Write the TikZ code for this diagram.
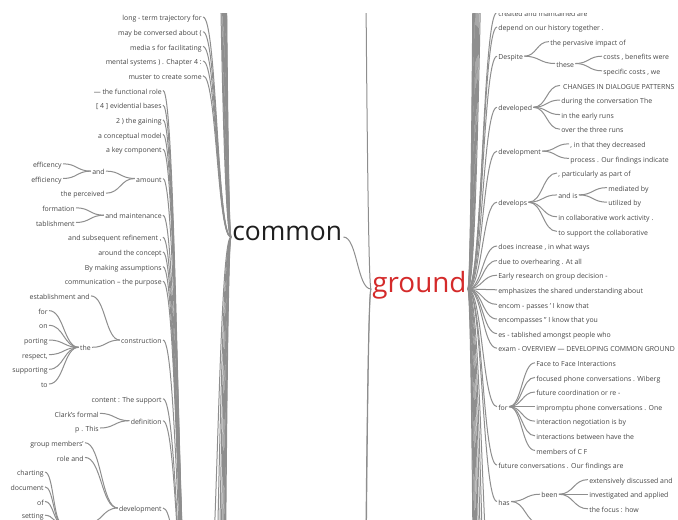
\documentclass[tikz,border=0pt]{standalone}
\usepackage{fontspec}
\setmainfont{Open Sans}
\usetikzlibrary{calc}
\definecolor{txt}{HTML}{454545}
\definecolor{lnk}{HTML}{8E8E8E}
\definecolor{gred}{HTML}{D42A2A}
\definecolor{cblack}{HTML}{1E1E1E}
\tikzset{
  wt/.style={font=\fontsize{5.2}{6}\selectfont, text=txt, inner sep=0pt, outer sep=1pt, text height=0.72em, text depth=0.17em},
  L/.style={wt, anchor=east},
  R/.style={wt, anchor=west},
  big/.style={inner sep=0pt, outer sep=1pt, text height=0.72em, text depth=0.17em},
  wl/.style={draw=lnk, line width=0.75pt, to path={let \p1=(\tikztostart), \p2=(\tikztotarget), \p3=($(\tikztostart)!0.5!(\tikztotarget)$) in .. controls (\x3,\y1) and (\x3,\y2) .. (\tikztotarget)}},
}
\begin{document}
\begin{tikzpicture}[x=0.75pt,y=-0.75pt]
\useasboundingbox (0,0) rectangle (678,519);
\begin{scope}
\clip (0,13) rectangle (678,519);
% ---------- central words
\node[big, anchor=west, font=\fontsize{19.8}{22}\selectfont, text=cblack] (common) at (231,237) {common};
\node[big, anchor=west, font=\fontsize{20.9}{22}\selectfont, text=gred] (ground) at (371,289) {ground};
% ---------- left tree
\node[L] (l0) at (203,17) {long - term trajectory for};
\node[L] (l1) at (203,31.7) {may be conversed about (};
\node[L] (l2) at (203,46.4) {media s for facilitating};
\node[L] (l3) at (203,61) {mental systems ) . Chapter 4 :};
\node[L] (l4) at (203,75.7) {muster to create some};
\node[L] (l5) at (163,90.4) {— the functional role};
\node[L] (l6) at (163,105.1) {[ 4 ] evidential bases};
\node[L] (l7) at (163,119.8) {2 ) the gaining};
\node[L] (l8) at (163,134.4) {a conceptual model};
\node[L] (l9) at (163,149.1) {a key component};
\node[L] (amount) at (163,178.5) {amount};
\node[L] (and1) at (106,171.1) {and};
\node[L] (perc) at (106,193.2) {the perceived};
\node[L] (effa) at (63,163.8) {efficency};
\node[L] (effb) at (63,178.5) {efficiency};
\node[L] (maint) at (163,215.2) {and maintenance};
\node[L] (form) at (76,207.8) {formation};
\node[L] (tabl) at (76,222.5) {tablishment};
\node[L] (l15) at (163,237.2) {and subsequent refinement ,};
\node[L] (l16) at (163,251.9) {around the concept};
\node[L] (l17) at (163,266.6) {By making assumptions};
\node[L] (l18) at (163,281.2) {communication – the purpose};
\node[L] (constr) at (163,340) {construction};
\node[L] (estab) at (91,295.9) {establishment and};
\node[L] (the) at (92,347.3) {the};
\node[L] (t1) at (49,310.6) {for};
\node[L] (t2) at (49,325.3) {on};
\node[L] (t3) at (49,340) {porting};
\node[L] (t4) at (49,354.6) {respect,};
\node[L] (t5) at (49,369.3) {supporting};
\node[L] (t6) at (49,384) {to};
\node[L] (l26) at (163,398.7) {content : The support};
\node[L] (defn) at (163,420.7) {definition};
\node[L] (clark) at (100,413.4) {Clark’s formal};
\node[L] (pthis) at (100,428) {p . This};
\node[L] (devl) at (163,508) {development};
\node[L] (grpm) at (85,442.7) {group members’};
\node[L] (role) at (85,457.4) {role and};
\node[L] (c1) at (45,472.1) {charting};
\node[L] (c2) at (45,486.8) {document};
\node[L] (c3) at (45,501.4) {of};
\node[L] (c4) at (45,515.2) {setting};
\coordinate (h4e) at (87,523.5);
\coordinate (h4w) at (62,523.5);
\coordinate (h2w) at (192,650);
\coordinate (h2e) at (204,650);
\foreach \nm in {l0,l1,l2,l3,l4} \draw[wl] (\nm.east) to (common.west);
\foreach \nm in {l5,l6,l7,l8,l9,amount,maint,l15,l16,l17,l18,constr,l26,defn,devl} \draw[wl] (\nm.east) to (h2w);
\draw[wl] (h2e) to (common.west);
\foreach \nm in {and1,perc} \draw[wl] (\nm.east) to (amount.west);
\foreach \nm in {effa,effb} \draw[wl] (\nm.east) to (and1.west);
\foreach \nm in {form,tabl} \draw[wl] (\nm.east) to (maint.west);
\foreach \nm in {estab,the} \draw[wl] (\nm.east) to (constr.west);
\foreach \nm in {t1,t2,t3,t4,t5,t6} \draw[wl] (\nm.east) to (the.west);
\foreach \nm in {clark,pthis} \draw[wl] (\nm.east) to (defn.west);
\foreach \nm in {grpm,role} \draw[wl] (\nm.east) to (devl.west);
\draw[wl] (h4e) to (devl.west);
\foreach \nm in {c1,c2,c3,c4} \draw[wl] (\nm.east) to (h4w);
\foreach \yy [count=\i] in {-700,-900,-1200,-1600,-2100,-2700,-3400,-4300,-5200,-6000} {
  \coordinate (la\i) at (203,\yy);
  \draw[wl] (la\i) to (common.west);
}
\foreach \yy [count=\i] in {900,1200,1600,2100,2800,3600,4500,5500} {
  \coordinate (lb\i) at (203,\yy);
  \draw[wl] (lb\i) to (common.west);
}
% ---------- middle
\draw[wl] (common.east) to (ground.west);
\foreach \yy [count=\i] in {-5500,5000,6000} {
  \coordinate (gp\i) at (343,\yy);
  \draw[wl] (gp\i) to (ground.west);
}
% ---------- right tree
\node[R] (r0) at (497,12.4) {created and maintained are};
\node[R] (depend) at (497,27) {depend on our history together .};
\node[R] (despite) at (497,56.2) {Despite};
\node[R] (perv) at (549,41.6) {the pervasive impact of};
\node[R] (these) at (555,63.5) {these};
\node[R] (costs) at (602,56.2) {costs , benefits were};
\node[R] (spec) at (602,70.8) {specific costs , we};
\node[R] (developed) at (497,107.3) {developed};
\node[R] (changes) at (560,85.4) {\ CHANGES IN DIALOGUE PATTERNS};
\node[R] (during) at (560,100) {during the conversation The};
\node[R] (early) at (560,114.6) {in the early runs};
\node[R] (over) at (560,129.2) {over the three runs};
\node[R] (devmt) at (497,151.1) {development};
\node[R] (inthat) at (569,143.8) {, in that they decreased};
\node[R] (process) at (569,158.4) {process . Our findings indicate};
\node[R] (develops) at (497,202.2) {develops};
\node[R] (partic) at (557,173) {, particularly as part of};
\node[R] (andis) at (557,194.9) {and is};
\node[R] (mediated) at (607,187.6) {mediated by};
\node[R] (utilized) at (607,202.2) {utilized by};
\node[R] (collab) at (557,216.8) {in collaborative work activity .};
\node[R] (support) at (557,231.4) {to support the collaborative};
\node[R] (does) at (497,246) {does increase , in what ways};
\node[R] (due) at (497,260.6) {due to overhearing . At all};
\node[R] (earlyr) at (497,275.2) {Early research on group decision -};
\node[R] (emph) at (497,289.8) {emphasizes the shared understanding about};
\node[R] (encom) at (497,304.4) {encom - passes ' I know that};
\node[R] (encomp) at (497,319) {encompasses " I know that you};
\node[R] (estr) at (497,333.6) {es - tablished amongst people who};
\node[R] (exam) at (497,348.2) {exam - OVERVIEW — DEVELOPING COMMON GROUND};
\node[R] (for) at (497,406.6) {for};
\node[R] (f1) at (535,362.8) {Face to Face Interactions};
\node[R] (f2) at (535,377.4) {focused phone conversations . Wiberg};
\node[R] (f3) at (535,392) {future coordination or re -};
\node[R] (f4) at (535,406.6) {impromptu phone conversations . One};
\node[R] (f5) at (535,421.2) {interaction negotiation is by};
\node[R] (f6) at (535,435.8) {interactions between have the};
\node[R] (f7) at (535,450.4) {members of C F};
\node[R] (futconv) at (497,465) {future conversations . Our findings are};
\node[R] (has) at (497,501.5) {has};
\node[R] (been) at (540,494.2) {been};
\node[R] (ext) at (588,479.6) {extensively discussed and};
\node[R] (inv) at (588,494.2) {investigated and applied};
\node[R] (focus) at (588,508.8) {the focus : how};
\coordinate (hhas) at (540,523.4);
\foreach \nm in {r0,depend,despite,developed,devmt,develops,does,due,earlyr,emph,encom,encomp,estr,exam,for,futconv,has} \draw[wl] (ground.east) to (\nm.west);
\foreach \yy [count=\i] in {-500,-700,-950,-1300,-1800,-2400,-3100,-4000,-5000,-6000} {
  \coordinate (ra\i) at (497,\yy);
  \draw[wl] (ground.east) to (ra\i);
}
\foreach \yy [count=\i] in {650,800,1000,1300,1700,2300,3100,4200,5500} {
  \coordinate (rb\i) at (497,\yy);
  \draw[wl] (ground.east) to (rb\i);
}
\foreach \nm in {perv,these} \draw[wl] (despite.east) to (\nm.west);
\foreach \nm in {costs,spec} \draw[wl] (these.east) to (\nm.west);
\foreach \nm in {changes,during,early,over} \draw[wl] (developed.east) to (\nm.west);
\foreach \nm in {inthat,process} \draw[wl] (devmt.east) to (\nm.west);
\foreach \nm in {partic,andis,collab,support} \draw[wl] (develops.east) to (\nm.west);
\foreach \nm in {mediated,utilized} \draw[wl] (andis.east) to (\nm.west);
\foreach \nm in {f1,f2,f3,f4,f5,f6,f7} \draw[wl] (for.east) to (\nm.west);
\draw[wl] (has.east) to (been.west);
\draw[wl] (has.east) to (hhas);
\foreach \nm in {ext,inv,focus} \draw[wl] (been.east) to (\nm.west);
\end{scope}
\end{tikzpicture}
\end{document}
